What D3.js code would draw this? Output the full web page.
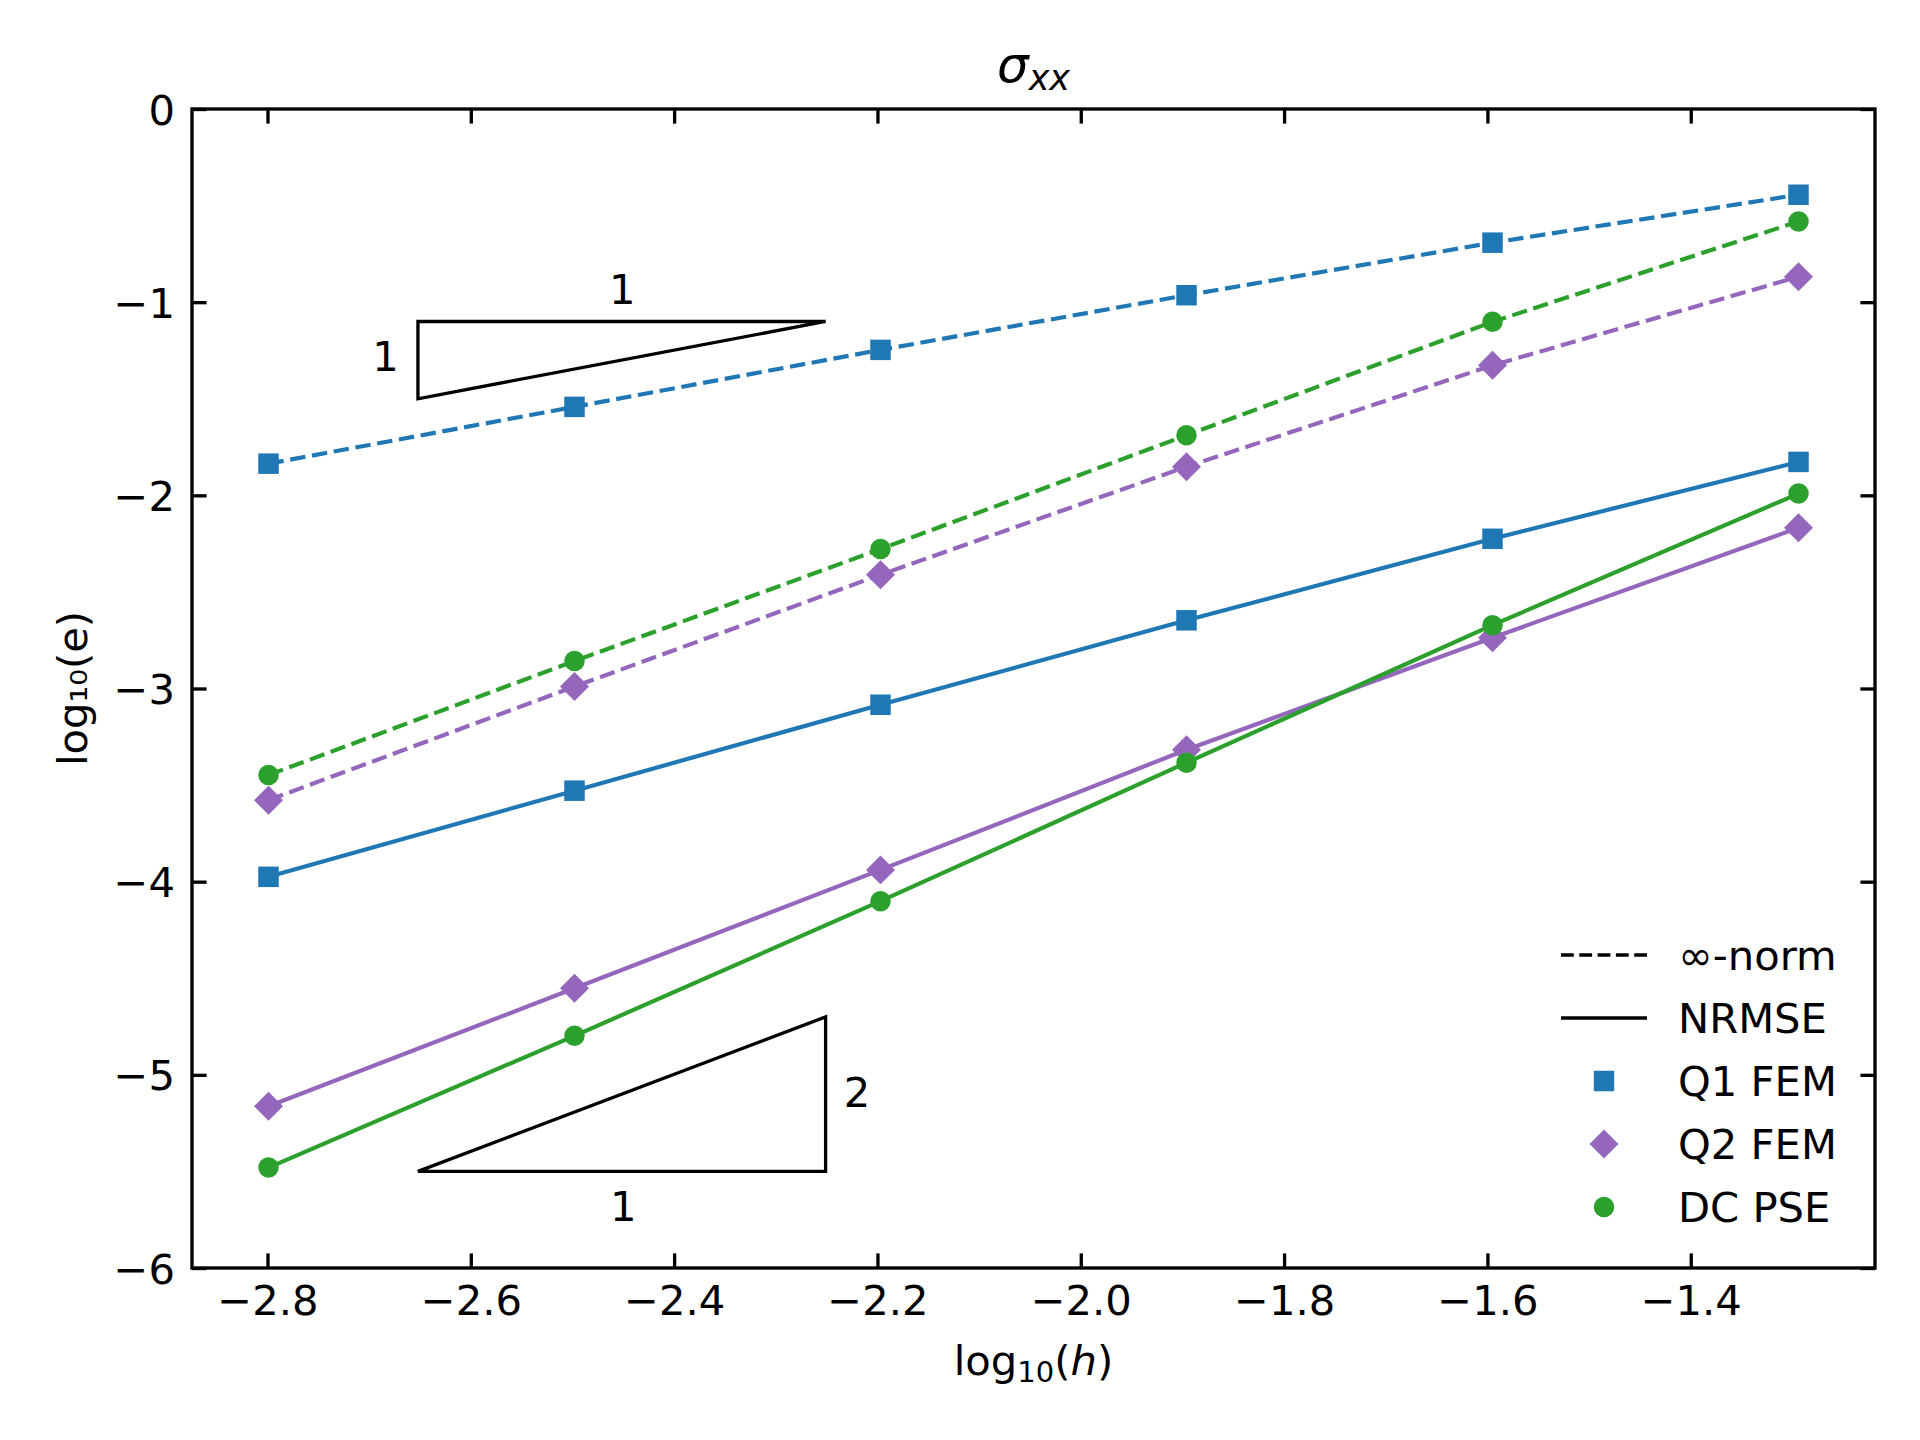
<!DOCTYPE html>
<html>
<head>
<meta charset="utf-8">
<script src="https://cdn.jsdelivr.net/npm/d3@7"></script>
<style>
  body { margin:0; background:#fff; }
  svg text { font-family:"DejaVu Sans", sans-serif; fill:#000; }
</style>
</head>
<body>
<div id="chart"></div>
<script>
// sigma_xx convergence: log10(e) vs log10(h)
const logH   = [-2.799, -2.498, -2.197, -1.896, -1.595, -1.294];
const q1Inf  = [-1.836, -1.542, -1.247, -0.964, -0.692, -0.444];
const q1Rmse = [-3.975, -3.529, -3.084, -2.647, -2.225, -1.827];
const q2Inf  = [-3.578, -2.990, -2.411, -1.852, -1.327, -0.868];
const q2Rmse = [-5.163, -4.552, -3.939, -3.317, -2.737, -2.168];
const dcInf  = [-3.448, -2.858, -2.278, -1.689, -1.102, -0.582];
const dcRmse = [-5.480, -4.798, -4.101, -3.384, -2.672, -1.991];

const methods   = ["Q1 FEM", "Q2 FEM", "DC PSE"];
const normNames = ["∞-norm", "NRMSE"];
const xTicks = [-2.8, -2.6, -2.4, -2.2, -2.0, -1.8, -1.6, -1.4];
const yTicks = [0, -1, -2, -3, -4, -5, -6];

// slope triangles (data coords) and their labels
const triangles = [
    [[-2.652, -1.5], [-2.652, -1.1], [-2.251, -1.1]],
    [[-2.652, -5.5], [-2.251, -5.5], [-2.251, -4.7]],
];
const triLabels = [
    { x:-2.451, y:-1.009, t:"1" },
    { x:-2.684, y:-1.356, t:"1" },
    { x:-2.220, y:-5.167, t:"2" },
    { x:-2.450, y:-5.758, t:"1" },
];

(function() {
    const totalW = 1920, totalH = 1440;
    const margin = { top:109, right:45, bottom:172, left:192 };
    const W = totalW - margin.left - margin.right, H = totalH - margin.top - margin.bottom;
    const lw = 4.17, spine = 3.33, tick = 14.6, fs = 41.7;
    const minus = (v, p) => (v < 0 ? "\u2212" : "") + Math.abs(v).toFixed(p);

    const colors  = ["#1f77b4", "#9467bd", "#2ca02c"];
    const symbols = [d3.symbolSquare, d3.symbolSquare, d3.symbolCircle];
    const rotate  = [0, 45, 0];
    const symSize = [420, 420, 330];
    const series = [
        { inf:q1Inf, rmse:q1Rmse },
        { inf:q2Inf, rmse:q2Rmse },
        { inf:dcInf, rmse:dcRmse },
    ];

    const root = d3.select("#chart").append("svg")
        .attr("width", totalW).attr("height", totalH).style("background", "#fff");
    const svg = root.append("g").attr("transform", `translate(${margin.left},${margin.top})`);

    const [x0, x1] = d3.extent(logH), pad = (x1 - x0) * 0.05;
    const x = d3.scaleLinear().domain([x0 - pad, x1 + pad]).range([0, W]);
    const y = d3.scaleLinear().domain([-6, 0]).range([H, 0]);

    // axes: ticks inward on all four sides
    const styleAxis = g => {
        g.select(".domain").remove();
        g.selectAll(".tick line").attr("stroke", "#000").attr("stroke-width", spine);
        g.selectAll(".tick text").style("font-size", fs + "px").attr("fill", "#000");
    };
    svg.append("g").attr("transform", `translate(0,${H})`)
        .call(d3.axisBottom(x).tickValues(xTicks).tickSizeInner(-tick).tickSizeOuter(0).tickPadding(17.4)
            .tickFormat(d => minus(d, 1))).call(styleAxis);
    svg.append("g")
        .call(d3.axisLeft(y).tickValues(yTicks).tickSizeInner(-tick).tickSizeOuter(0).tickPadding(17)
            .tickFormat(d => minus(d, 0))).call(styleAxis)
        .selectAll(".tick text").attr("dy", "0.36em");
    svg.append("g")
        .call(d3.axisTop(x).tickValues(xTicks).tickSizeInner(-tick).tickSizeOuter(0).tickFormat("")).call(styleAxis);
    svg.append("g").attr("transform", `translate(${W},0)`)
        .call(d3.axisRight(y).tickValues(yTicks).tickSizeInner(-tick).tickSizeOuter(0).tickFormat("")).call(styleAxis);

    // slope triangles
    const tri = d3.line().x(d => x(d[0])).y(d => y(d[1]));
    svg.selectAll(".tri").data(triangles).enter().append("path")
        .attr("d", d => tri(d) + "Z").attr("fill", "none").attr("stroke", "#000")
        .attr("stroke-width", 3.3).attr("stroke-linejoin", "miter");
    svg.selectAll(".tri-label").data(triLabels).enter().append("text")
        .attr("x", d => x(d.x)).attr("y", d => y(d.y)).attr("text-anchor", "middle")
        .style("font-size", fs + "px").text(d => d.t);

    // series lines + markers
    const line = d3.line().x((d, i) => x(logH[i])).y(d => y(d));
    series.forEach((s, k) => {
        [s.inf, s.rmse].forEach((vals, j) => {
            svg.append("path").datum(vals).attr("d", line).attr("fill", "none")
                .attr("stroke", colors[k]).attr("stroke-width", lw)
                .attr("stroke-dasharray", j === 0 ? "15.4,6.7" : null);
            svg.selectAll(null).data(vals).enter().append("path")
                .attr("d", d3.symbol().type(symbols[k]).size(symSize[k]))
                .attr("transform", (d, i) => `translate(${x(logH[i])},${y(d)}) rotate(${rotate[k]})`)
                .attr("fill", colors[k]);
        });
    });

    // frame
    svg.append("rect").attr("width", W).attr("height", H)
        .attr("fill", "none").attr("stroke", "#000").attr("stroke-width", spine);

    // legend
    const lg = svg.append("g").attr("transform", `translate(${1561 - margin.left},${955 - margin.top})`);
    const rowH = 63;
    normNames.forEach((n, i) => {
        lg.append("line").attr("x1", 0).attr("x2", 86).attr("y1", i * rowH).attr("y2", i * rowH)
            .attr("stroke", "#000").attr("stroke-width", 3.5)
            .attr("stroke-dasharray", i === 0 ? "12.8,5.5" : null);
        lg.append("text").attr("x", 117).attr("y", i * rowH + 14.5).style("font-size", fs + "px").text(n);
    });
    methods.forEach((m, k) => {
        const yy = (k + 2) * rowH;
        lg.append("path").attr("d", d3.symbol().type(symbols[k]).size(symSize[k]))
            .attr("transform", `translate(43,${yy}) rotate(${rotate[k]})`).attr("fill", colors[k]);
        lg.append("text").attr("x", 117).attr("y", yy + 14.5).style("font-size", fs + "px").text(m);
    });

    // axis labels and title
    const xl = svg.append("text").attr("x", W / 2).attr("y", 1375 - margin.top)
        .attr("text-anchor", "middle").style("font-size", fs + "px");
    xl.append("tspan").text("log");
    xl.append("tspan").attr("dy", 7).style("font-size", "29px").text("10");
    xl.append("tspan").attr("dy", -7).text("(");
    xl.append("tspan").style("font-style", "italic").text("h");
    xl.append("tspan").text(")");

    svg.append("text").attr("transform", `translate(${86.7 - margin.left},${H / 2}) rotate(-90)`)
        .attr("text-anchor", "middle").style("font-size", fs + "px").text("log₁₀(e)");

    const tt = svg.append("text").attr("x", W / 2).attr("y", 82 - margin.top)
        .attr("text-anchor", "middle").style("font-size", "50px");
    tt.append("tspan").style("font-style", "italic").text("σ");
    tt.append("tspan").attr("dy", 8).style("font-style", "italic").style("font-size", "35px").text("xx");
})();
</script>
</body>
</html>
